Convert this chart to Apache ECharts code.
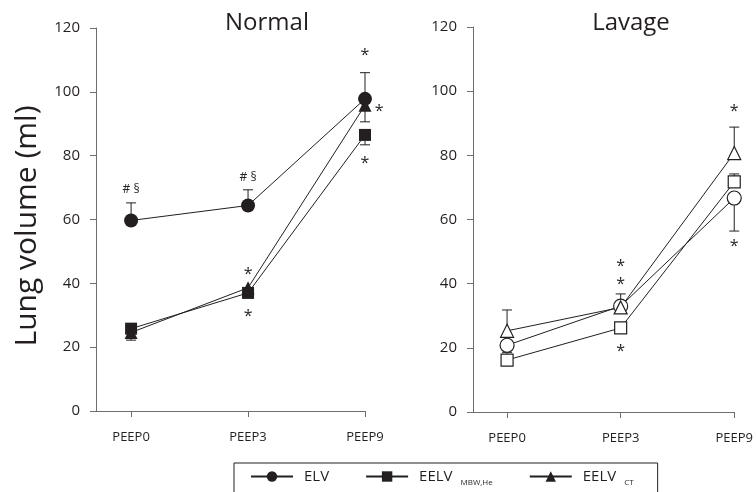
<!DOCTYPE html>
<html>
<head>
<meta charset="utf-8">
<script src="https://cdn.jsdelivr.net/npm/echarts@6/dist/echarts.min.js"></script>
<style>
html,body{margin:0;padding:0;background:#fff;}
#chart{width:756px;height:492px;}
</style>
</head>
<body>
<div id="chart"></div>
<script>
// ---- data ----
const categories = ['PEEP0', 'PEEP3', 'PEEP9'];
const panelTitles = ['Normal', 'Lavage'];
const seriesNames = ['ELV', 'EELV MBW,He', 'EELV CT'];

// Normal
const normalELV = [59.7, 64.4, 97.8];
const normalEELVmbw = [25.8, 37.0, 86.5];
const normalEELVct = [24.6, 38.6, 95.8];
const normalELVErr = [65.2, 69.3, 106.0];
const normalEELVmbwErr = [null, null, 83.4];
const normalEELVctErr = [22.2, null, 90.6];

// Lavage
const lavageELV = [20.8, 33.0, 66.7];
const lavageEELVmbw = [16.2, 26.2, 71.7];
const lavageEELVct = [25.3, 32.6, 80.7];
const lavageELVErr = [null, null, 56.4];
const lavageEELVmbwErr = [18.6, null, 74.2];
const lavageEELVctErr = [31.8, 36.8, 88.8];

// significance marks: [text, category position, value]
const normalMarks = [['*', 2, 112.5], ['*', 2.12, 95.0], ['*', 2, 78.7], ['# §', 0, 69.5], ['# §', 1, 73.0], ['*', 1, 44.0], ['*', 1, 30.7]];
const lavageMarks = [['*', 1, 46.4], ['*', 1, 40.8], ['*', 1, 20.0], ['*', 2, 94.8], ['*', 2, 52.7]];

const yTicks = [0, 20, 40, 60, 80, 100, 120];

// ---- chart ----
const FONT = 'Open Sans';
const INK = '#231f20';
const AXIS = '#6d6e71';
const chart = echarts.init(document.getElementById('chart'), null, {renderer: 'canvas'});

function pts(arr) { return arr.map((v, i) => [i, v]); }
function errPts(vals, errs) {
  const out = [];
  errs.forEach((e, i) => { if (e != null) out.push([i, vals[i], e]); });
  return out;
}

function lineSeries(name, vals, idx, symbol, size, filled) {
  return {
    type: 'line', name: name, xAxisIndex: idx, yAxisIndex: idx,
    data: pts(vals), symbol: symbol, symbolSize: size, showSymbol: true,
    lineStyle: {color: INK, width: 1},
    itemStyle: {color: filled ? INK : '#fff', borderColor: INK, borderWidth: filled ? 0 : 1.2},
    emphasis: {disabled: true}, z: 3, animation: false
  };
}
function errSeries(vals, errs, idx) {
  const d = errPts(vals, errs);
  return {
    type: 'custom', xAxisIndex: idx, yAxisIndex: idx, z: 2, silent: true, animation: false,
    data: d,
    renderItem: function (params, api) {
      const it = d[params.dataIndex];
      const p0 = api.coord([it[0], it[1]]);
      const p1 = api.coord([it[0], it[2]]);
      const st = {stroke: INK, lineWidth: 1};
      return {type: 'group', children: [
        {type: 'line', shape: {x1: p0[0], y1: p0[1], x2: p1[0], y2: p1[1]}, style: st},
        {type: 'line', shape: {x1: p1[0] - 5, y1: p1[1], x2: p1[0] + 5, y2: p1[1]}, style: st}
      ]};
    }
  };
}
function markSeries(marks, idx) {
  return {
    type: 'custom', xAxisIndex: idx, yAxisIndex: idx, z: 4, silent: true, animation: false,
    data: marks.map(m => [m[1], m[2]]),
    renderItem: function (params, api) {
      const m = marks[params.dataIndex];
      const p = api.coord([m[1], m[2]]);
      const star = m[0] === '*';
      const fs = star ? 16 : 12;
      return {type: 'text', x: p[0], y: p[1] + (star ? fs * 0.22 : 0),
        style: {text: m[0], fill: INK, font: fs + 'px "' + FONT + '"', align: 'center', verticalAlign: 'middle'}};
    }
  };
}

const grids = [
  {left: 96, right: 391, top: 28, bottom: 81},
  {left: 473, right: 13, top: 27, bottom: 80}
];

const xAxes = grids.map((g, i) => ({
  type: 'value', gridIndex: i, min: -0.3, max: 2,
  axisLine: {onZero: false, lineStyle: {color: AXIS, width: 1}},
  axisTick: {show: true, length: 6, customValues: [0, 1, 2], lineStyle: {color: AXIS}},
  axisLabel: {customValues: [0, 1, 2], formatter: v => categories[Math.round(v)], color: INK, fontFamily: FONT, fontSize: 13, margin: 20},
  splitLine: {show: false},
  minorTick: {show: false}, minorSplitLine: {show: false}
}));
const yAxes = grids.map((g, i) => ({
  type: 'value', gridIndex: i, min: 0, max: 120, interval: 20,
  axisLine: {show: true, onZero: false, lineStyle: {color: AXIS, width: 1}},
  axisTick: {show: true, length: 6, lineStyle: {color: AXIS}},
  axisLabel: {color: INK, fontFamily: FONT, fontSize: 15, margin: 16, formatter: v => yTicks.includes(v) ? String(v) : ''},
  splitLine: {show: false},
  name: i === 0 ? 'Lung volume (ml)' : '', nameLocation: 'middle', nameGap: 54, nameRotate: 90,
  nameTextStyle: {color: INK, fontFamily: FONT, fontSize: 30, padding: [0, 13, 0, 0]}
}));

const option = {
  backgroundColor: '#fff',
  animation: false,
  title: [
    {text: panelTitles[0], left: 262, top: 6, textAlign: 'center', textStyle: {color: INK, fontFamily: FONT, fontSize: 24, fontWeight: 'normal'}},
    {text: panelTitles[1], left: 626, top: 6, textAlign: 'center', textStyle: {color: INK, fontFamily: FONT, fontSize: 24, fontWeight: 'normal'}}
  ],
  grid: grids,
  xAxis: xAxes,
  yAxis: yAxes,
  legend: {
    data: seriesNames, left: 234, top: 463, orient: 'horizontal',
    itemWidth: 42, itemHeight: 13, itemGap: 36,
    borderColor: INK, borderWidth: 1, padding: [6, 24, 20, 16],
    selectedMode: false,
    formatter: function (n) {
      if (n === 'EELV MBW,He') return 'EELV{s|MBW,He}';
      if (n === 'EELV CT') return 'EELV{s|CT}';
      return n;
    },
    textStyle: {color: INK, fontFamily: FONT, fontSize: 15, padding: [0, 0, 0, 6],
      rich: {s: {fontSize: 8, fontFamily: FONT, color: INK, padding: [13, 0, 0, 8]}}}
  },
  series: [
    errSeries(normalELV, normalELVErr, 0),
    errSeries(normalEELVmbw, normalEELVmbwErr, 0),
    errSeries(normalEELVct, normalEELVctErr, 0),
    lineSeries(seriesNames[0], normalELV, 0, 'circle', 14, true),
    lineSeries(seriesNames[1], normalEELVmbw, 0, 'rect', 12, true),
    lineSeries(seriesNames[2], normalEELVct, 0, 'triangle', 13, true),
    markSeries(normalMarks, 0),
    errSeries(lavageELV, lavageELVErr, 1),
    errSeries(lavageEELVmbw, lavageEELVmbwErr, 1),
    errSeries(lavageEELVct, lavageEELVctErr, 1),
    lineSeries(seriesNames[0], lavageELV, 1, 'circle', 14, false),
    lineSeries(seriesNames[1], lavageEELVmbw, 1, 'rect', 12, false),
    lineSeries(seriesNames[2], lavageEELVct, 1, 'triangle', 13, false),
    markSeries(lavageMarks, 1)
  ]
};
chart.setOption(option);
</script>
</body>
</html>
